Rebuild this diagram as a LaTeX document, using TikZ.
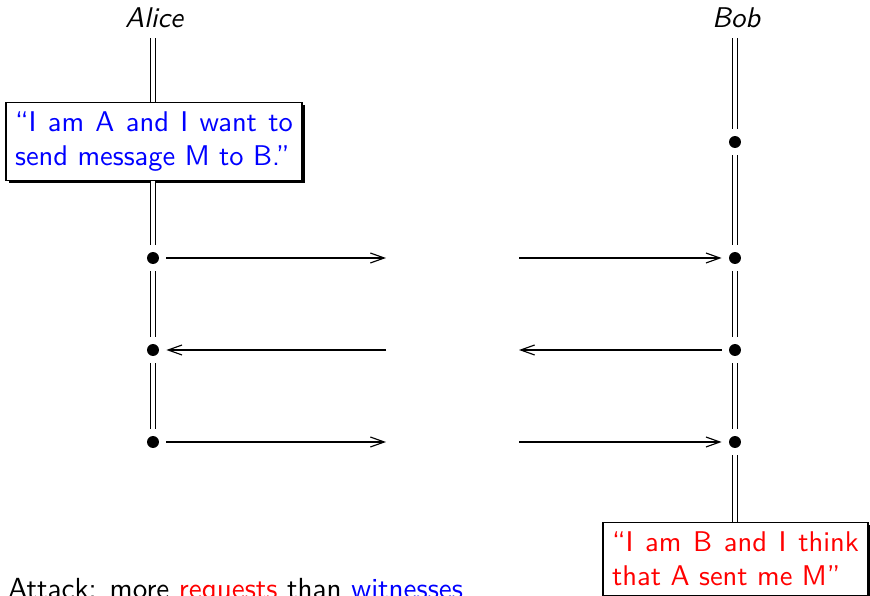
\documentclass[tikz,border=0pt]{standalone}
\usetikzlibrary{arrows.meta,shadows}
\begin{document}
\begin{tikzpicture}[x=0.351pt,y=-0.351pt,
  every node/.style={font=\sffamily},
  actor/.style={font=\sffamily\itshape},
  life/.style={double,double distance=1.2pt,line width=0.4pt},
  dot/.style={circle,fill,inner sep=0pt,minimum size=4.2pt,outer sep=2.6pt},
  msg/.style={line width=0.4pt,-{Straight Barb[length=4.9pt,width=3.5pt]}},
  quotebox/.style={draw,fill=white,align=justify,anchor=north,line width=0.4pt,inner sep=3.2pt,
    drop shadow={shadow xshift=1pt,shadow yshift=-1pt,fill=black,opacity=1}}]
\useasboundingbox (0,0) rectangle (870,596);

% actors
\node[actor] (alice) at (154,18) {Alice};
\node[actor] (bob) at (736,18) {Bob};

% boxes
\node[quotebox,text=blue,text width=97.5pt] (abox) at (154,102) {``I am A and I want to\linebreak send message M to B.''};
\node[quotebox,text=red,text width=86.6pt] (bbox) at (735.5,522) {``I am B and I think\linebreak that A sent me M''};

% dots
\node[dot] (a1) at (153,258) {};
\node[dot] (a2) at (153,350) {};
\node[dot] (a3) at (153,442) {};
\node[dot] (b0) at (735,142) {};
\node[dot] (b1) at (735,258) {};
\node[dot] (b2) at (735,350) {};
\node[dot] (b3) at (735,442) {};

% gap ends
\coordinate (m1l) at (386,258);
\coordinate (m1r) at (519,258);
\coordinate (m2l) at (386,350);
\coordinate (m2r) at (519,350);
\coordinate (m3l) at (386,442);
\coordinate (m3r) at (519,442);

% lifelines
\draw[life] (a1 |- alice.south) -- (a1 |- abox.north);
\draw[life] (a1 |- abox.south) -- (a1);
\draw[life] (a1) -- (a2);
\draw[life] (a2) -- (a3);
\draw[life] (b0 |- bob.south) -- (b0);
\draw[life] (b0) -- (b1);
\draw[life] (b1) -- (b2);
\draw[life] (b2) -- (b3);
\draw[life] (b3) -- (b3 |- bbox.north);

% messages
\draw[msg] (a1) -- (m1l);
\draw[msg] (m1r) -- (b1);
\draw[msg] (m2l) -- (a2);
\draw[msg] (b2) -- (m2r);
\draw[msg] (a3) -- (m3l);
\draw[msg] (m3r) -- (b3);

% caption
\node[anchor=base west,inner sep=0pt,font=\fontsize{10.2pt}{12.2pt}\selectfont\sffamily] (attack) at (7.5,599) {Attack: more \textcolor{red}{requests} than \textcolor{blue}{witnesses}};
\end{tikzpicture}
\end{document}
